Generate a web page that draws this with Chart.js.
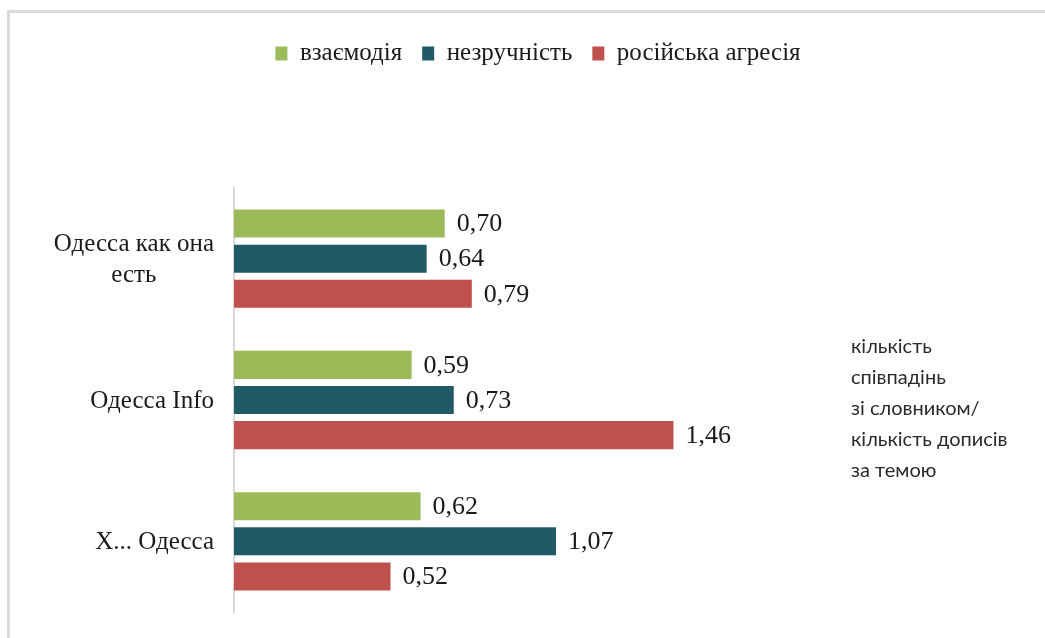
<!DOCTYPE html>
<html>
<head>
<meta charset="utf-8">
<script src="https://cdn.jsdelivr.net/npm/chart.js@4"></script>
<style>
  html, body { margin: 0; padding: 0; background: #fff; overflow: hidden; }
  canvas { display: block; }
</style>
</head>
<body>
<canvas id="chart" width="1045" height="638"></canvas>
<script>
const categories = [['Одесса как она', 'есть'], 'Одесса Info', 'Х... Одесса'];
const seriesNames = ['взаємодія', 'незручність', 'російська агресія'];
const interaction = [0.70, 0.59, 0.62];
const inconvenience = [0.64, 0.73, 1.07];
const aggression = [0.79, 1.46, 0.52];
const axisNote = ['кількість', 'співпадінь', 'зі словником/', 'кількість дописів', 'за темою'];

const serif = '"Liberation Serif", "Times New Roman", serif';
const textColor = '#1a1a1a';

Chart.defaults.font.family = serif;

const fmt = v => v.toFixed(2).replace('.', ',');

// keep a big gap under the legend like the original
const legendSpace = {
  id: 'legendSpace',
  beforeInit(chart) {
    const fit = chart.legend.fit;
    chart.legend.fit = function () {
      fit.call(this);
      this.height = 167;
    };
  }
};

// light frame, top and left edges only
const frame = {
  id: 'frame',
  beforeDraw(chart) {
    const ctx = chart.ctx;
    ctx.save();
    ctx.fillStyle = '#dadada';
    ctx.fillRect(7, 10, chart.width, 3);
    ctx.fillRect(7, 10, 3, chart.height);
    ctx.restore();
  }
};

// category labels, multi-line ones centred on themselves
const categoryLabels = {
  id: 'categoryLabels',
  afterDraw(chart) {
    const ctx = chart.ctx;
    const y = chart.scales.y;
    ctx.save();
    ctx.font = '25px ' + serif;
    ctx.fillStyle = textColor;
    ctx.textBaseline = 'middle';
    ctx.textAlign = 'center';
    const right = chart.chartArea.left - 20;
    categories.forEach((label, i) => {
      const lines = [].concat(label);
      const w = Math.max(...lines.map(l => ctx.measureText(l).width));
      const cy = y.getPixelForTick(i);
      lines.forEach((line, j) => {
        ctx.fillText(line, right - w / 2, cy + 1 + (j - (lines.length - 1) / 2) * 31);
      });
    });
    ctx.restore();
  }
};

const valueLabels = {
  id: 'valueLabels',
  afterDatasetsDraw(chart) {
    const ctx = chart.ctx;
    ctx.save();
    ctx.font = '26px ' + serif;
    ctx.fillStyle = textColor;
    ctx.textBaseline = 'middle';
    ctx.textAlign = 'left';
    chart.data.datasets.forEach((ds, i) => {
      chart.getDatasetMeta(i).data.forEach((bar, j) => {
        ctx.fillText(fmt(ds.data[j]), bar.x + 12, bar.y + 1);
      });
    });
    ctx.restore();
  }
};

const noteText = {
  id: 'noteText',
  afterDraw(chart) {
    const ctx = chart.ctx;
    ctx.save();
    ctx.font = '20px Lato, "Open Sans", sans-serif';
    ctx.fillStyle = '#2a2a2a';
    ctx.textBaseline = 'middle';
    ctx.textAlign = 'left';
    axisNote.forEach((line, i) => {
      ctx.fillText(line, chart.chartArea.right + 15, 347 + i * 31);
    });
    ctx.restore();
  }
};

new Chart(document.getElementById('chart'), {
  type: 'bar',
  data: {
    labels: categories,
    datasets: [{
      label: seriesNames[0],
      data: interaction,
      backgroundColor: '#9BBB59'
    }, {
      label: seriesNames[1],
      data: inconvenience,
      backgroundColor: '#215967'
    }, {
      label: seriesNames[2],
      data: aggression,
      backgroundColor: '#C0504D'
    }]
  },
  options: {
    indexAxis: 'y',
    responsive: false,
    animation: false,
    layout: { padding: { top: 21, right: 0, bottom: 26, left: 31 } },
    datasets: {
      bar: { categoryPercentage: 0.745, barPercentage: 0.8 }
    },
    scales: {
      x: { display: false, min: 0, max: 2 },
      y: {
        grid: { display: false },
        ticks: { display: false },
        border: { display: true, color: '#d9d9d9', width: 2 },
        afterFit(scale) { scale.width = 203; }
      },
      yRight: {
        type: 'category',
        position: 'right',
        grid: { display: false },
        ticks: { display: false },
        border: { display: false },
        afterFit(scale) { scale.width = 209; }
      }
    },
    plugins: {
      legend: {
        position: 'top',
        labels: {
          boxWidth: 12,
          boxHeight: 14,
          padding: 20,
          color: textColor,
          font: { family: serif, size: 25 }
        }
      },
      tooltip: { enabled: false }
    }
  },
  plugins: [legendSpace, frame, categoryLabels, valueLabels, noteText]
});
</script>
</body>
</html>
